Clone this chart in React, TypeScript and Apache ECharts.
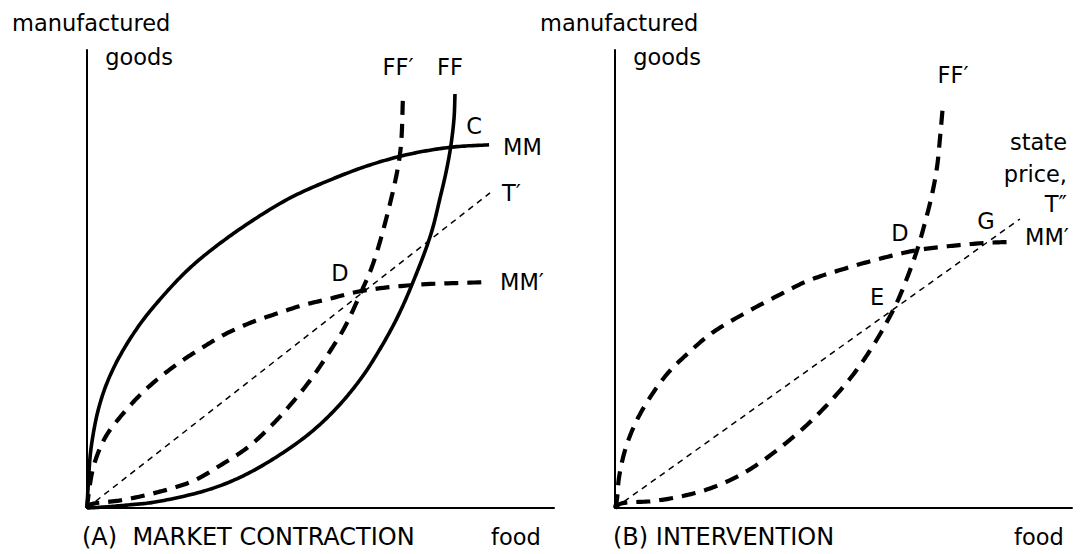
import React, { useEffect, useRef } from "react";
import * as echarts from "echarts";

// Panel A (market contraction): [food, manufactured goods]
const mmA: number[][] = [
  [0, 0], [0.2, 3.9], [0.9, 13.3], [2.8, 22.9], [5.8, 30.8], [10.9, 39.5], [16.1, 46.1],
  [21.6, 52.0], [27.2, 56.8], [34.9, 62.4], [43.5, 67.7], [52.0, 71.6], [60.6, 74.9],
  [69.2, 77.3], [78.2, 78.8], [86.1, 79.3],
];
const ffA: number[][] = [
  [0, 0], [3.4, 0.2], [9.2, 0.7], [14.6, 1.3], [25.7, 3.9], [33.0, 6.8], [40.5, 11.1],
  [47.8, 16.4], [53.7, 22.1], [58.9, 28.6], [62.5, 34.3], [66.4, 41.5], [70.0, 49.8],
  [73.7, 60.0], [75.6, 67.7], [76.9, 73.4], [77.9, 79.0], [78.6, 85.2], [78.8, 90.4],
];
const ffPrimeA: number[][] = [
  [0, 0], [0.6, 0.7], [7.3, 1.7], [14.6, 3.3], [22.7, 5.9], [28.7, 9.4], [34.5, 13.3],
  [39.0, 17.5], [42.6, 21.4], [47.8, 27.9], [52.2, 34.5], [55.2, 39.5], [58.9, 47.6],
  [61.0, 52.6], [64.0, 62.9], [67.0, 77.1], [67.7, 90.6],
];
const mmPrimeA: number[][] = [
  [0, 0], [0.4, 3.5], [1.3, 8.7], [2.8, 13.1], [4.5, 16.4], [7.3, 20.1], [10.9, 24.2],
  [14.6, 27.7], [19.7, 31.7], [24.2, 34.7], [29.3, 37.8], [34.9, 40.4], [40.5, 42.4],
  [46.3, 44.3], [51.6, 45.6], [58.9, 47.4], [70.0, 48.7], [84.8, 49.3],
];
const tPrimeA: number[][] = [[0, 0], [86.3, 68.8]];

// Panel B (intervention)
const ffPrimeB: number[][] = [
  [0, 0], [1.1, 0.9], [8.1, 1.5], [13.8, 2.4], [19.7, 3.9], [25.2, 6.1], [30.4, 9.0],
  [36.3, 13.3], [42.5, 18.6], [48.6, 24.9], [53.0, 30.3], [56.7, 35.8], [59.7, 41.0],
  [61.7, 44.9], [63.9, 50.2], [66.1, 56.3], [67.8, 62.2], [69.4, 68.6], [70.5, 74.7],
  [71.1, 80.6], [71.8, 88.4],
];
const mmPrimeB: number[][] = [
  [0, 0], [0.4, 1.7], [0.9, 6.8], [2.4, 13.3], [4.8, 19.2], [7.7, 24.2], [11.6, 29.5],
  [16.0, 33.8], [21.2, 38.2], [28.9, 42.8], [36.3, 46.7], [42.2, 49.6], [51.4, 52.6],
  [60.2, 55.0], [66.1, 56.3], [73.3, 57.2], [81.4, 57.9], [87.1, 58.1],
];
const tDoubleB: number[][] = [[0, 0], [88.6, 63.1]];

const FONT = "DejaVu Sans";
const FS = 22.5;
const FS_CAPTION = 24;

function txt(text: string, x: number, y: number, align: string = "left", size: number = FS) {
  return {
    type: "text",
    x,
    y,
    style: {
      text,
      fill: "#000",
      font: `${size}px "${FONT}"`,
      textAlign: align,
      textVerticalAlign: "middle",
    },
  };
}

// centripetal Catmull-Rom through pixel points
function catmull(pts: number[][], steps = 16): number[][] {
  if (pts.length < 3) return pts;
  const out: number[][] = [];
  const n = pts.length;
  const dist = (a: number[], b: number[]) =>
    Math.max(1e-4, Math.pow(Math.hypot(b[0] - a[0], b[1] - a[1]), 0.5));
  for (let i = 0; i < n - 1; i++) {
    const p1 = pts[i];
    const p2 = pts[i + 1];
    const p0 = i === 0 ? [2 * p1[0] - p2[0], 2 * p1[1] - p2[1]] : pts[i - 1];
    const p3 = i === n - 2 ? [2 * p2[0] - p1[0], 2 * p2[1] - p1[1]] : pts[i + 2];
    const t0 = 0;
    const t1 = t0 + dist(p0, p1);
    const t2 = t1 + dist(p1, p2);
    const t3 = t2 + dist(p2, p3);
    for (let s = 0; s < steps; s++) {
      const t = t1 + ((t2 - t1) * s) / steps;
      const lerp = (a: number[], b: number[], ta: number, tb: number) => {
        const k = (t - ta) / (tb - ta);
        return [a[0] + (b[0] - a[0]) * k, a[1] + (b[1] - a[1]) * k];
      };
      const A1 = lerp(p0, p1, t0, t1);
      const A2 = lerp(p1, p2, t1, t2);
      const A3 = lerp(p2, p3, t2, t3);
      const B1 = lerp(A1, A2, t0, t2);
      const B2 = lerp(A2, A3, t1, t3);
      out.push(lerp(B1, B2, t1, t2));
    }
  }
  out.push(pts[n - 1]);
  return out;
}

function curve(data: number[][], idx: number, kind: "solid" | "dashed" | "thin") {
  let lineWidth = 3.6;
  let lineDash: any = null;
  if (kind === "dashed") {
    lineWidth = 4.2;
    lineDash = [14, 9];
  } else if (kind === "thin") {
    lineWidth = 1.5;
    lineDash = [6, 5];
  }
  return {
    type: "custom",
    coordinateSystem: "cartesian2d",
    xAxisIndex: idx,
    yAxisIndex: idx,
    data,
    clip: false,
    silent: true,
    z: kind === "thin" ? 1 : 2,
    renderItem: (params: any, api: any) => {
      if (params.dataIndex !== 0) return null;
      const px = data.map((d) => api.coord(d));
      const pts = kind === "thin" ? px : catmull(px);
      return {
        type: "polyline",
        shape: { points: pts },
        style: {
          stroke: "#000",
          fill: null,
          lineWidth,
          lineDash,
          lineCap: "butt",
          lineJoin: "round",
        },
      };
    },
  };
}

function axis(idx: number) {
  return {
    type: "value",
    gridIndex: idx,
    min: 0,
    max: 100,
    axisLine: { show: true, onZero: false, lineStyle: { color: "#000", width: 2 } },
    axisTick: { show: false },
    axisLabel: { show: false },
    splitLine: { show: false },
  };
}

export default function App() {
  const ref = useRef<HTMLDivElement>(null);
  useEffect(() => {
    if (!ref.current) return;
    const chart = echarts.init(ref.current, undefined, { renderer: "svg" });
    chart.setOption({
      animation: false,
      backgroundColor: "#fff",
      grid: [
        { left: 87, top: 50, width: 467, height: 458 },
        { left: 615, top: 50, width: 457, height: 458 },
      ],
      xAxis: [axis(0), axis(1)],
      yAxis: [axis(0), axis(1)],
      series: [
        curve(tPrimeA, 0, "thin"),
        curve(mmA, 0, "solid"),
        curve(ffA, 0, "solid"),
        curve(ffPrimeA, 0, "dashed"),
        curve(mmPrimeA, 0, "dashed"),
        curve(tDoubleB, 1, "thin"),
        curve(ffPrimeB, 1, "dashed"),
        curve(mmPrimeB, 1, "dashed"),
      ],
      graphic: [
        txt("manufactured", 12, 23),
        txt("goods", 173, 57, "right"),
        txt("FF\u2032", 398, 67, "center"),
        txt("FF", 450, 67, "center"),
        txt("C", 474, 126, "center"),
        txt("MM", 503, 147),
        txt("T\u2032", 502, 193),
        txt("D", 340, 273, "center"),
        txt("MM\u2032", 500, 282),
        txt("(A)  MARKET CONTRACTION", 82, 537, "left", FS_CAPTION),
        txt("food", 491, 537),
        txt("manufactured", 540, 23),
        txt("goods", 701, 57, "right"),
        txt("FF\u2032", 953, 75, "center"),
        txt("state", 1067, 142, "right"),
        txt("price,", 1067, 174, "right"),
        txt("T\u2033", 1067, 204, "right"),
        txt("MM\u2032", 1025, 237),
        txt("G", 986, 221, "center"),
        txt("D", 900, 233, "center"),
        txt("E", 877, 297, "center"),
        txt("(B) INTERVENTION", 613, 537, "left", FS_CAPTION),
        txt("food", 1014, 537),
      ],
    });
    return () => chart.dispose();
  }, []);
  return (
    <div
      ref={ref}
      style={{ position: "fixed", left: 0, top: 0, width: 1080, height: 554, background: "#fff" }}
    />
  );
}
